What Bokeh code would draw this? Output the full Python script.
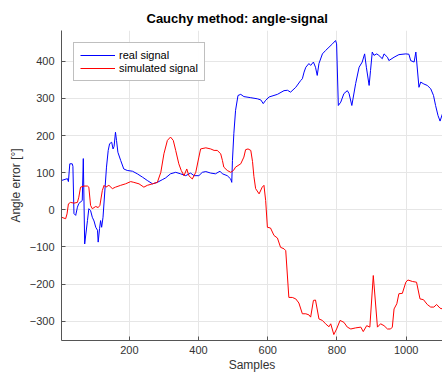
from bokeh.plotting import figure
from bokeh.models import Range1d, FixedTicker, Legend, LegendItem
from bokeh.embed import file_html
from bokeh.resources import INLINE

# Measured angle error (real signal) by sample index
samples_real = [4, 21, 24, 28, 35, 37, 40, 45, 50, 54, 64, 67, 71, 79, 83, 88, 93, 98,
                103, 108, 110, 114, 117, 120, 124, 130, 134, 139, 143, 149, 153, 156,
                160, 163, 167, 175, 184, 194, 209, 223, 238, 252, 267, 281, 295, 305,
                319, 334, 348, 363, 377, 387, 401, 411, 421, 435, 449, 462, 469, 483,
                493, 496, 498, 502, 507, 514, 522, 531, 551, 570, 580, 587, 594, 604,
                628, 647, 657, 666, 681, 695, 700, 705, 710, 719, 724, 732, 738, 743,
                748, 758, 767, 777, 787, 796, 799, 804, 811, 820, 830, 835, 843, 854,
                864, 873, 880, 885, 893, 897, 902, 907, 915, 921, 931, 936, 946, 950,
                965, 979, 999, 1008, 1013, 1023, 1028, 1037, 1042, 1051, 1061, 1071,
                1079, 1085, 1092, 1098, 1105]
angle_real = [79, 84, 76, 124, 124, 117, -10, -15, 7, 17, 25, 138, -92, -29, 3, -2, -20,
              -30, -47, -55, -87, -50, -29, -47, -20, 61, 115, 160, 178, 182, 164, 171,
              209, 187, 155, 133, 110, 106, 104, 97, 88, 79, 70, 74, 81, 86, 97, 101, 97,
              92, 99, 92, 92, 101, 103, 99, 97, 104, 97, 92, 83, 74, 133, 205, 268, 308,
              311, 305, 302, 299, 296, 286, 295, 304, 311, 321, 322, 317, 330, 348, 353,
              371, 384, 394, 389, 398, 384, 362, 394, 420, 429, 438, 447, 456, 447, 281,
              290, 313, 321, 313, 281, 340, 384, 398, 420, 384, 335, 375, 425, 416, 420,
              416, 407, 420, 411, 402, 411, 418, 420, 419, 402, 398, 425, 330, 344, 339,
              335, 326, 308, 281, 254, 239, 259]

# Simulated angle error by sample index
samples_sim = [4, 16, 20, 24, 30, 40, 50, 54, 59, 69, 79, 83, 88, 93, 103, 110, 115, 122,
               127, 132, 141, 151, 160, 175, 189, 204, 213, 228, 242, 252, 267, 281, 291,
               300, 310, 319, 327, 334, 343, 350, 358, 366, 372, 382, 392, 401, 406, 421,
               435, 445, 454, 464, 469, 473, 483, 493, 501, 507, 522, 531, 536, 543, 551,
               556, 560, 565, 575, 584, 589, 594, 599, 608, 618, 628, 637, 647, 652, 661,
               671, 681, 690, 700, 710, 719, 724, 732, 738, 748, 758, 767, 777, 782, 791,
               799, 809, 820, 830, 840, 854, 869, 876, 886, 895, 905, 917, 926, 936, 946,
               955, 960, 965, 973, 979, 989, 999, 1005, 1018, 1030, 1040, 1050, 1061,
               1071, 1080, 1088, 1098, 1105]
angle_sim = [-20, -24, -11, 16, 20, 18, 20, 34, 61, 64, 64, 61, 12, 3, 9, 6, 12, 52, 66,
             61, 66, 57, 61, 66, 70, 76, 74, 70, 61, 66, 70, 74, 101, 151, 187, 196, 187,
             160, 124, 106, 92, 110, 92, 83, 101, 142, 164, 167, 164, 160, 160, 151, 133,
             115, 106, 101, 106, 115, 124, 142, 162, 164, 160, 130, 90, 57, 43, 61, 66, 25,
             -47, -49, -69, -76, -101, -105, -110, -236, -236, -240, -251, -280, -280, -283,
             -289, -244, -243, -294, -298, -307, -315, -307, -336, -321, -298, -303, -316,
             -321, -318, -316, -328, -312, -316, -177, -316, -307, -312, -321, -321, -316,
             -267, -253, -226, -225, -195, -189, -193, -195, -240, -242, -255, -262, -262,
             -255, -265, -267]

x_ticks = [200, 400, 600, 800, 1000]
y_ticks = [-300, -200, -100, 0, 100, 200, 300, 400]

FONT = "Liberation Sans"
INK = "#333333"

p = figure(width=442, height=375, output_backend="svg", toolbar_location=None,
           x_range=Range1d(4, 1105), y_range=Range1d(-352, 483),
           min_border_left=61, min_border_right=0, min_border_top=30,
           min_border_bottom=35, title="Cauchy method: angle-signal")

p.title.text_font = FONT
p.title.text_font_size = "13px"
p.title.text_font_style = "bold"
p.title.text_color = "#000000"
p.title.align = "left"
p.title.offset = 85
p.outline_line_color = None
p.background_fill_color = "white"
p.border_fill_color = "white"

for ax in (p.xaxis[0], p.yaxis[0]):
    ax.axis_line_color = "#555555"
    ax.major_tick_line_color = "#555555"
    ax.major_tick_in = 4
    ax.major_tick_out = 0
    ax.minor_tick_line_color = None
    ax.major_label_text_font = FONT
    ax.major_label_text_font_size = "11px"
    ax.major_label_text_color = INK
    ax.axis_label_text_font = FONT
    ax.axis_label_text_font_size = "12px"
    ax.axis_label_text_font_style = "normal"
    ax.axis_label_text_color = INK

p.xaxis.ticker = FixedTicker(ticks=x_ticks)
p.yaxis.ticker = FixedTicker(ticks=y_ticks)
p.xaxis.axis_label = "Samples"
p.yaxis.axis_label = "Angle error [°]"
p.xaxis.major_label_standoff = 5
p.xaxis.axis_label_standoff = 1
p.yaxis.major_label_standoff = 7
p.yaxis.axis_label_standoff = 4

p.xgrid.grid_line_color = "#e6e6e6"
p.ygrid.grid_line_color = "#e6e6e6"

r_real = p.line(samples_real, angle_real, line_color="#0000ff", line_width=1)
r_sim = p.line(samples_sim, angle_sim, line_color="#ff0000", line_width=1)

legend = Legend(items=[LegendItem(label="real signal", renderers=[r_real]),
                       LegendItem(label="simulated signal", renderers=[r_sim])],
                location="top_left")
legend.label_text_font = FONT
legend.label_text_font_size = "11px"
legend.label_text_color = "#000000"
legend.glyph_width = 35
legend.glyph_height = 12
legend.label_height = 12
legend.label_standoff = 4
legend.spacing = 1
legend.padding = 6
legend.margin = 12
legend.border_line_color = "#808080"
legend.border_line_width = 1
legend.background_fill_color = "white"
p.add_layout(legend)

open("out.html", "w").write(file_html(p, INLINE))
